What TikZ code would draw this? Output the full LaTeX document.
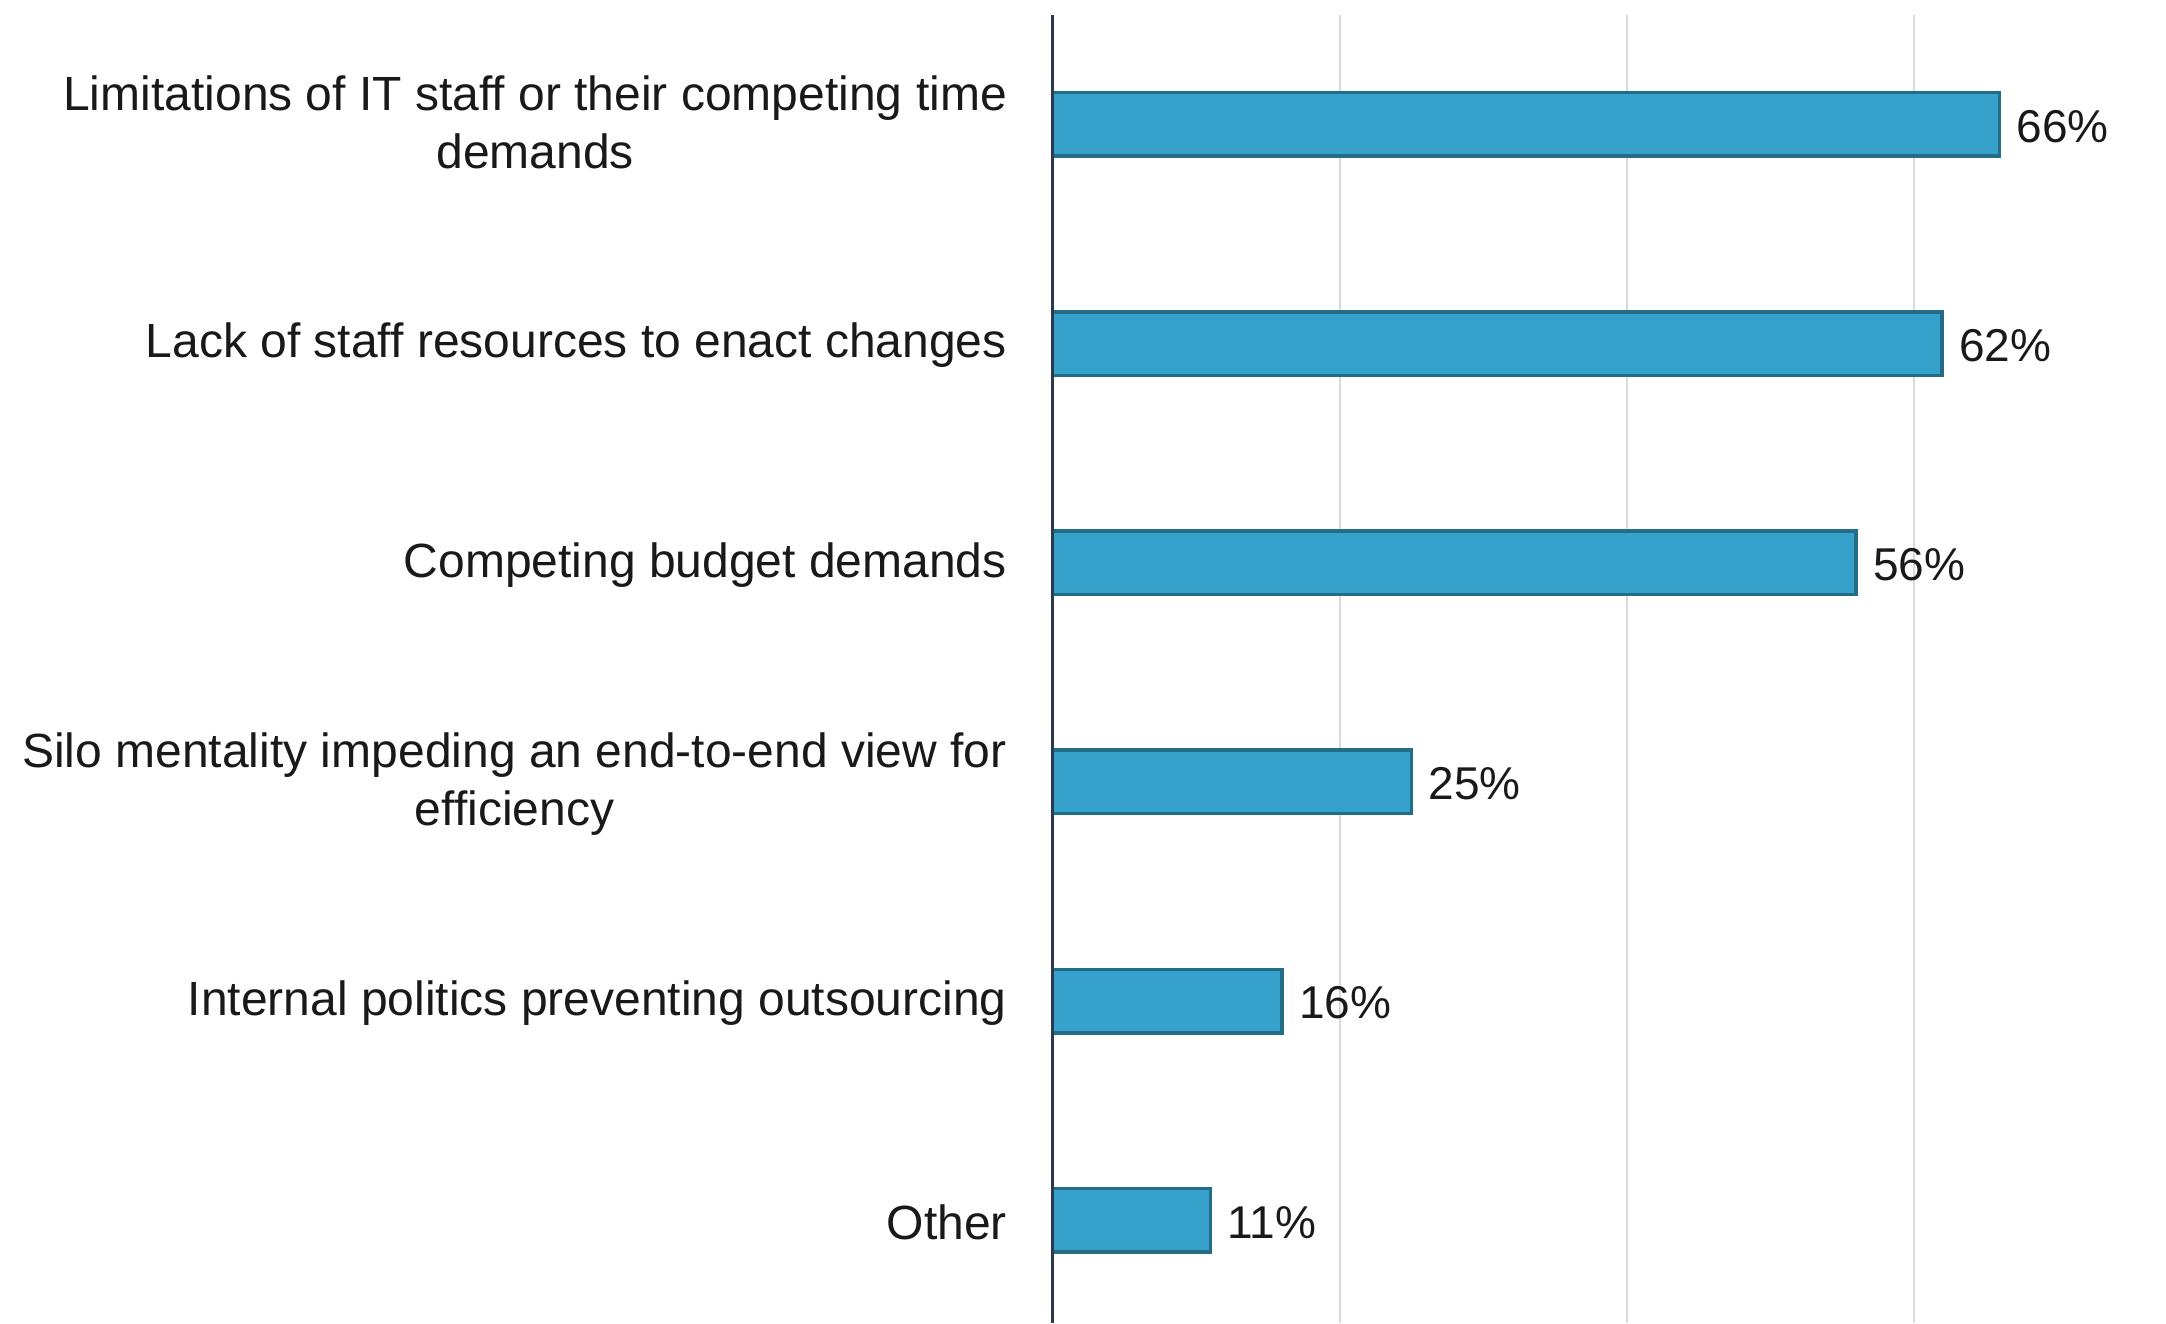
\documentclass[tikz,border=0pt]{standalone}
\usepackage{fontspec}
\setmainfont{Liberation Sans}
\definecolor{barfill}{HTML}{36A2CB}
\definecolor{barline}{HTML}{236D86}
\definecolor{axiscol}{HTML}{2B3A4E}
\definecolor{gridcol}{HTML}{D9D9D9}
\begin{document}
\begin{tikzpicture}[x=1pt,y=-1pt,
  catlabel/.style={anchor=east,align=center,font=\fontsize{48}{58}\selectfont,inner sep=0pt,text=black!90},
  vallabel/.style={anchor=west,font=\fontsize{46}{56}\selectfont,inner sep=0pt,text=black!90},
  bar/.style={fill=barfill,draw=barline,line width=3.5pt},
  gridline/.style={draw=gridcol,line width=2pt},
  axisline/.style={draw=axiscol,line width=3pt}]
\useasboundingbox (0,0) rectangle (2166,1323);
\def\xz{1052.5}
\def\sc{14.35}
% grid
\foreach \g in {20,40,60}{
  \draw[gridline] (\xz+\g*\sc,15) -- (\xz+\g*\sc,1323);
}
% bars
\foreach \v/\yc/\nm in {66/124.3/b1,62/343.5/b2,56/562.7/b3,25/781.9/b4,16/1001.1/b5,11/1220.3/b6}{
  \draw[bar] (\xz,\yc-31.75) rectangle (\xz+\v*\sc,\yc+31.75);
  \node[vallabel] (v\nm) at (\xz+\v*\sc+17,\yc+2) {\v\%};
}
% axis
\coordinate (axtop) at (\xz,15);
\coordinate (axbot) at (\xz,1323);
\draw[axisline] (axtop) -- (axbot);
% category labels
\node[catlabel] (c1) at (1007,122) {Limitations of IT staff or their competing time\\demands};
\node[catlabel] (c2) at (1007,345.5) {Lack of staff resources to enact changes};
\node[catlabel] (c3) at (1007,564.7) {Competing budget demands};
\node[catlabel] (c4) at (1007,783.9) {Silo mentality impeding an end-to-end view for\\efficiency};
\node[catlabel] (c5) at (1007,1003.1) {Internal politics preventing outsourcing};
\node[catlabel] (c6) at (1007,1222.3) {Other};
\end{tikzpicture}
\end{document}
